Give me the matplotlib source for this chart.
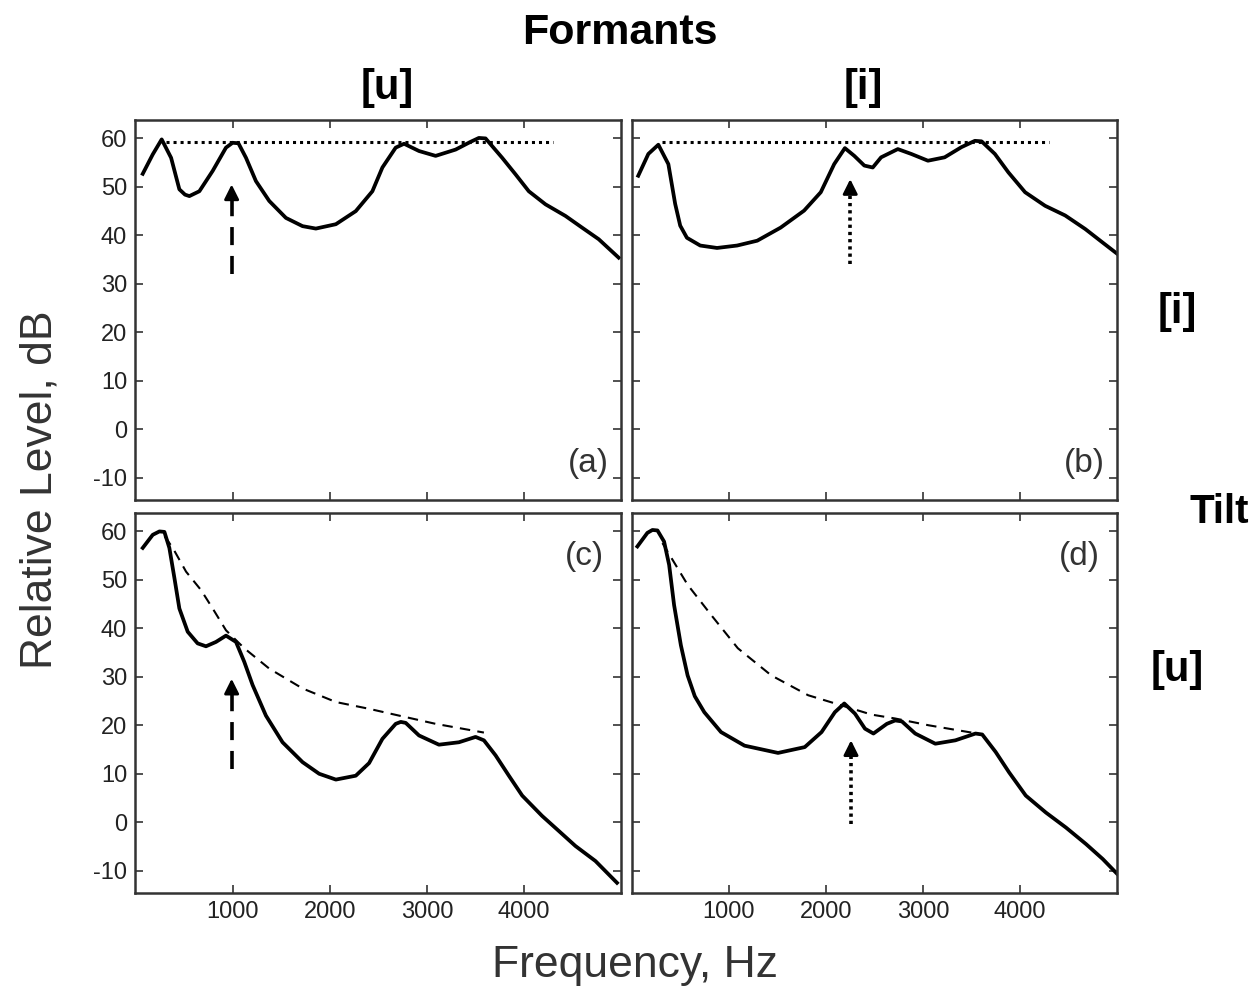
import matplotlib
matplotlib.use("Agg")
import matplotlib.pyplot as plt

plt.rcParams['font.family'] = ['Liberation Sans', 'DejaVu Sans']
plt.rcParams['axes.unicode_minus'] = False

# spectra (Hz, dB)
freq_a = [75, 178, 270, 367, 452, 510, 555, 658, 795, 932, 1000, 1060, 1138, 1240, 1377, 1549, 1720,
          1857, 2063, 2268, 2439, 2542, 2679, 2765, 2919, 3090, 3296, 3450, 3535, 3604, 3775, 3912,
          4049, 4221, 4427, 4597, 4769, 4974]
level_a = [52.7, 56.7, 59.8, 56.0, 49.5, 48.4, 48.1, 49.1, 53.3, 58.1, 59.1, 59.0, 56.0, 51.2, 47.1,
           43.6, 41.9, 41.4, 42.3, 45.0, 49.1, 54.0, 58.1, 58.9, 57.4, 56.4, 57.7, 59.3, 60.1, 60.0,
           56.0, 52.6, 49.1, 46.4, 44.0, 41.6, 39.2, 35.4]

freq_b = [68, 172, 275, 378, 448, 500, 569, 706, 879, 1086, 1293, 1534, 1775, 1947, 2085, 2195, 2292,
          2395, 2482, 2568, 2740, 2878, 3050, 3222, 3395, 3533, 3602, 3739, 3878, 4050, 4256, 4463,
          4670, 4843, 4998]
level_b = [52.3, 56.8, 58.7, 54.7, 46.5, 42.0, 39.5, 37.9, 37.4, 37.9, 38.9, 41.6, 45.1, 48.9, 54.7,
           58.0, 56.4, 54.4, 54.0, 56.1, 57.8, 56.8, 55.4, 56.1, 58.2, 59.5, 59.4, 56.8, 53.0, 48.9,
           46.1, 44.1, 41.3, 38.6, 36.2]

freq_c = [75, 178, 247, 298, 349, 401, 452, 538, 640, 726, 829, 932, 1035, 1120, 1206, 1343, 1514,
          1720, 1891, 2063, 2268, 2405, 2542, 2679, 2731, 2782, 2919, 3124, 3330, 3501, 3587, 3707,
          3844, 3981, 4186, 4358, 4529, 4735, 4957]
level_c = [56.6, 59.3, 60.0, 59.9, 56.6, 50.4, 44.1, 39.3, 36.9, 36.3, 37.2, 38.5, 37.2, 33.1, 28.3,
           22.0, 16.5, 12.4, 10.0, 8.8, 9.6, 12.2, 17.2, 20.3, 20.7, 20.5, 17.9, 16.0, 16.5, 17.6,
           16.9, 13.8, 9.6, 5.5, 1.3, -1.8, -4.9, -8.0, -12.5]

freq_d = [59, 162, 214, 266, 334, 386, 437, 507, 576, 650, 748, 920, 1162, 1507, 1782, 1955, 2092, 2189,
          2299, 2402, 2489, 2627, 2713, 2782, 2919, 3126, 3333, 3540, 3609, 3747, 3885, 4057, 4264,
          4471, 4677, 4850, 5000]
level_d = [56.9, 59.7, 60.3, 60.2, 57.9, 53.1, 44.8, 36.5, 30.3, 26.0, 22.7, 18.6, 15.8, 14.3, 15.5,
           18.6, 22.7, 24.5, 22.4, 19.3, 18.3, 20.3, 21.0, 20.8, 18.3, 16.2, 16.9, 18.3, 18.1, 14.5,
           10.3, 5.5, 2.0, -1.1, -4.5, -7.6, -10.7]

# spectral tilt (dashed) in the bottom row
tilt_freq_c = [300, 384, 521, 675, 795, 932, 1120, 1377, 1720, 2063, 2405, 2713, 3090, 3587]
tilt_level_c = [59.0, 56.6, 51.7, 47.9, 44.1, 39.6, 35.9, 31.7, 27.6, 24.8, 23.4, 22.0, 20.3, 18.5]
tilt_freq_d = [317, 576, 817, 1093, 1437, 1817, 2161, 2471, 2713, 3058, 3557]
tilt_level_d = [57.6, 49.0, 42.8, 35.9, 30.3, 26.2, 24.1, 22.2, 21.4, 20.0, 18.3]

# flat formant reference (dotted) in the top row
flat_freq = [310, 4300]
flat_level = [59.3, 59.3]

# arrows: (freq, tail level, head level, style)
arrow_a = (990, 32.0, 50.5, 'dashed')
arrow_b = (2250, 34.0, 51.6, 'dotted')
arrow_c = (990, 11.0, 29.6, 'dashed')
arrow_d = (2258, -0.4, 16.9, 'dotted')

panel_names = ['(a)', '(b)', '(c)', '(d)']
xticks = [1000, 2000, 3000, 4000]
yticks = [-10, 0, 10, 20, 30, 40, 50, 60]

fig = plt.figure(figsize=(12.6, 10), dpi=100)
cols = [0.1075, 0.5013]
rows = [0.50, 0.107]
w, h = 0.3855, 0.38

axes = []
for r in range(2):
    for c in range(2):
        ax = fig.add_axes([cols[c], rows[r], w, h])
        axes.append(ax)


def draw_arrow(ax, arrow):
    x, y0, y1, style = arrow
    if style == 'dashed':
        ls = (0, (5, 3))
    else:
        ls = (0, (0.9, 1.1))
    ax.plot([x, x], [y0, y1 - 2.5], color='black', lw=2.6, ls=ls, solid_capstyle='butt',
            dash_capstyle='butt')
    ax.annotate('', xy=(x, y1), xytext=(x, y1 - 3.0),
                arrowprops=dict(arrowstyle='-|>', color='black', lw=2.0, mutation_scale=22,
                                shrinkA=0, shrinkB=0))


data = [(freq_a, level_a), (freq_b, level_b), (freq_c, level_c), (freq_d, level_d)]
arrows = [arrow_a, arrow_b, arrow_c, arrow_d]
for i, ax in enumerate(axes):
    f, lv = data[i]
    ax.plot(f, lv, color='black', lw=2.7, solid_joinstyle='round')
    if i < 2:
        ax.plot(flat_freq, flat_level, color='black', lw=2.2, ls=(0, (1, 1.3)))
    elif i == 2:
        ax.plot(tilt_freq_c, tilt_level_c, color='black', lw=1.5, ls=(0, (5, 3.5)))
    else:
        ax.plot(tilt_freq_d, tilt_level_d, color='black', lw=1.5, ls=(0, (5, 3.5)))
    draw_arrow(ax, arrows[i])

    ax.set_xlim(0, 5000)
    ax.set_ylim(-14.6, 63.8)
    ax.set_xticks(xticks)
    ax.set_yticks(yticks)
    ax.tick_params(direction='in', length=6, width=1.2, top=True, right=True,
                   labelsize=17, colors='#333333', labelcolor='#222222', pad=6)
    for s in ax.spines.values():
        s.set_linewidth(1.8)
        s.set_color('#333333')
    if i % 2 == 1:
        ax.set_yticklabels([])
    if i < 2:
        ax.set_xticklabels([])
    if i < 2:
        ax.text(0.975, 0.095, panel_names[i], transform=ax.transAxes, ha='right', va='center',
                fontsize=24, color='#333333')
    else:
        ax.text(0.965, 0.885, panel_names[i], transform=ax.transAxes, ha='right', va='center',
                fontsize=24, color='#333333')

fig.text(0.492, 0.967, 'Formants', ha='center', va='center', fontsize=31, fontweight='bold')
fig.text(0.307, 0.912, '[u]', ha='center', va='center', fontsize=30, fontweight='bold')
fig.text(0.685, 0.912, '[i]', ha='center', va='center', fontsize=30, fontweight='bold')
fig.text(0.934, 0.688, '[i]', ha='center', va='center', fontsize=30, fontweight='bold')
fig.text(0.968, 0.488, 'Tilt', ha='center', va='center', fontsize=29, fontweight='bold')
fig.text(0.934, 0.330, '[u]', ha='center', va='center', fontsize=30, fontweight='bold')
fig.text(0.032, 0.51, 'Relative Level, dB', ha='center', va='center', rotation=90,
         fontsize=32, color='#333333')
fig.text(0.504, 0.035, 'Frequency, Hz', ha='center', va='center', fontsize=32, color='#333333')

fig.savefig('out.png', dpi=100)
